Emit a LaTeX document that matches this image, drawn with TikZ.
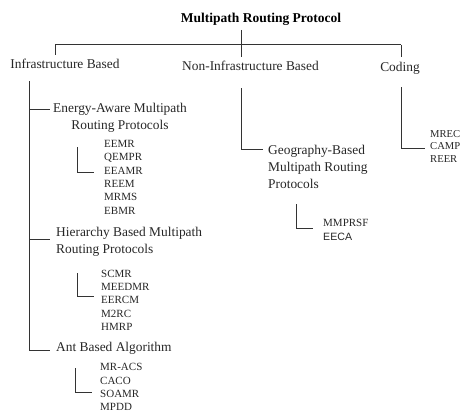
\documentclass[tikz,border=0pt]{standalone}
\usepackage{fontspec}
\setmainfont{Liberation Serif}
\newfontfamily\arialfont{Liberation Sans}
\begin{document}
\begin{tikzpicture}[x=1pt,y=-1pt,
  big/.style={inner sep=0pt,text=black!85,font=\fontsize{13.4}{17}\selectfont},
  item/.style={inner sep=0pt,anchor=mid west,text=black!85,font=\fontsize{11}{13.4}\selectfont},
  smallitem/.style={inner sep=0pt,anchor=mid west,text=black!85,font=\fontsize{10.6}{12.5}\selectfont},
  link/.style={draw=black!80,line width=1pt}]
\useasboundingbox (0,0) rectangle (462,412);
% title and top level
\node[big,text=black,font=\fontsize{13.5}{17}\selectfont\bfseries] (title) at (261,19) {Multipath Routing Protocol};
\node[big] (inf) at (65,64) {Infrastructure Based};
\node[big] (noninf) at (250.5,66) {Non-Infrastructure Based};
\node[big] (coding) at (400,68) {Coding};
\coordinate (ttop) at (241,30);
\coordinate (hl) at (55,45);
\coordinate (hm) at (241,45);
\coordinate (hr) at (401,45);
\coordinate (dl) at (55,55);
\coordinate (dm) at (241,57);
\coordinate (dr) at (401,57);
\draw[link] (ttop) -- (hm);
\draw[link] (hl) -- (hr);
\draw[link] (hl) -- (dl);
\draw[link] (hm) -- (dm);
\draw[link] (hr) -- (dr);
% infrastructure branch
\node[big,align=center,anchor=west] (energy) at (53,117.5) {Energy-Aware Multipath\\Routing Protocols};
\node[big,align=left,anchor=west] (hier) at (56,241.5) {Hierarchy Based Multipath\\Routing Protocols};
\node[big,anchor=mid west] (ant) at (56,349) {Ant Based Algorithm};
\coordinate (it) at (29,81);
\coordinate (ib) at (29,350);
\coordinate (i1) at (29,109);
\coordinate (i2) at (29,239);
\coordinate (e1) at (50,109);
\coordinate (e2) at (50,239);
\coordinate (e3) at (50,350);
\draw[link] (it) -- (ib) -- (e3);
\draw[link] (i1) -- (e1);
\draw[link] (i2) -- (e2);
% energy list
\foreach \t [count=\i] in {EEMR,QEMPR,EEAMR,REEM,MRMS,EBMR}
  \node[item] (ea\i) at (104,{145+13.4*(\i-1)}) {\t};
\coordinate (eat) at (77,147);
\coordinate (eac) at (77,172);
\coordinate (eae) at (94,172);
\draw[link] (eat) -- (eac) -- (eae);
% hierarchy list
\foreach \t [count=\i] in {SCMR,MEEDMR,EERCM,M2RC,HMRP}
  \node[item] (hb\i) at (101,{275+13.3*(\i-1)}) {\t};
\coordinate (hbt) at (77,273);
\coordinate (hbc) at (77,296);
\coordinate (hbe) at (94,296);
\draw[link] (hbt) -- (hbc) -- (hbe);
% ant list
\foreach \t [count=\i] in {MR-ACS,CACO,SOAMR,MPDD}
  \node[item] (ab\i) at (100,{368.5+13.3*(\i-1)}) {\t};
\coordinate (abt) at (75,368);
\coordinate (abc) at (75,392);
\coordinate (abe) at (92,392);
\draw[link] (abt) -- (abc) -- (abe);
% non-infrastructure branch
\node[big,align=left,anchor=west] (geo) at (268,167) {Geography-Based\\Multipath Routing\\Protocols};
\coordinate (nt) at (241,88);
\coordinate (nc) at (241,149);
\coordinate (ne) at (263,149);
\draw[link] (nt) -- (nc) -- (ne);
\node[item] (g1) at (323,224) {MMPRSF};
\node[item,font=\arialfont\fontsize{10.6}{12.5}\selectfont] (g2) at (323,238) {EECA};
\coordinate (gt) at (296,204);
\coordinate (gc) at (296,228);
\coordinate (ge) at (313,228);
\draw[link] (gt) -- (gc) -- (ge);
% coding branch
\foreach \t [count=\i] in {MREC,CAMP,REER}
  \node[smallitem] (cd\i) at (430,{135+12.5*(\i-1)}) {\t};
\coordinate (ct) at (401,87);
\coordinate (cc) at (401,148);
\coordinate (ce) at (425,148);
\draw[link] (ct) -- (cc) -- (ce);
\end{tikzpicture}
\end{document}
